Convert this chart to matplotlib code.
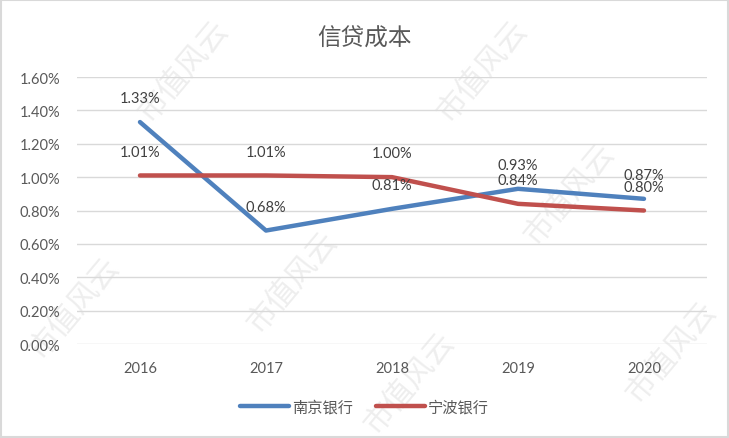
import matplotlib.pyplot as plt
from matplotlib.ticker import FuncFormatter
from matplotlib.patches import Rectangle

plt.rcParams['font.family'] = ['Lato', 'Noto Sans CJK SC', 'DejaVu Sans']

# data
years = ['2016', '2017', '2018', '2019', '2020']
nanjing = [1.33, 0.68, 0.81, 0.93, 0.87]
ningbo = [1.01, 1.01, 1.00, 0.84, 0.80]
series_names = ['南京银行', '宁波银行']
title = '信贷成本'

blue = '#4F81BD'
red = '#C0504D'
grey = '#595959'

fig = plt.figure(figsize=(7.29, 4.39), dpi=100)

# background layer: frame + faint watermarks, drawn under the chart
bg = fig.add_axes([0, 0, 1, 1], zorder=-1)
bg.axis('off')
bg.set_xlim(0, 1)
bg.set_ylim(0, 1)
bg.add_patch(Rectangle((0.001, 0.002), 0.997, 0.996, fill=False,
                       edgecolor='#D9D9D9', linewidth=1.5))
marks = [(0.25, 0.84), (0.66, 0.84), (0.40, 0.36), (0.78, 0.56),
         (0.10, 0.30), (0.56, 0.13), (0.92, 0.20)]
for mx, my in marks:
    bg.text(mx, my, '市值风云', fontsize=22, color='#EEEEEE', rotation=50,
            ha='center', va='center')

ax = fig.add_axes([0.1056, 0.2141, 0.8642, 0.6082])

x = list(range(len(years)))
ax.plot(x, nanjing, color=blue, linewidth=3.2, label=series_names[0],
        solid_capstyle='round', zorder=3)
ax.plot(x, ningbo, color=red, linewidth=3.2, label=series_names[1],
        solid_capstyle='round', zorder=3)

for xi, v in zip(x, nanjing):
    ax.annotate(f'{v:.2f}%', (xi, v), xytext=(0, 12), textcoords='offset points',
                ha='center', va='bottom', fontsize=10.5, color='#404040', zorder=4)
for xi, v in zip(x, ningbo):
    ax.annotate(f'{v:.2f}%', (xi, v), xytext=(0, 12), textcoords='offset points',
                ha='center', va='bottom', fontsize=10.5, color='#404040', zorder=4)

ax.set_xlim(-0.5, len(years) - 0.5)
ax.set_ylim(0, 1.6)
ax.set_yticks([i * 0.2 for i in range(9)])
ax.yaxis.set_major_formatter(FuncFormatter(lambda v, p: f'{v:.2f}%'))
ax.set_xticks(x)
ax.set_xticklabels(years)
ax.grid(axis='y', color='#D9D9D9', linewidth=1)
ax.set_axisbelow(True)
for s in ax.spines.values():
    s.set_visible(False)
ax.tick_params(length=0, colors=grey, labelsize=10.5)
ax.tick_params(axis='x', pad=12)
ax.tick_params(axis='y', pad=12)
ax.patch.set_alpha(0)

fig.text(0.5, 0.913, title, ha='center', va='center', fontsize=17, color=grey)

fig.legend(loc='center', bbox_to_anchor=(0.5, 0.07), ncol=2, frameon=False,
           fontsize=11, labelcolor=grey, handlelength=3.2, handletextpad=0.2,
           columnspacing=1.5)

fig.savefig('out.png', dpi=100)
